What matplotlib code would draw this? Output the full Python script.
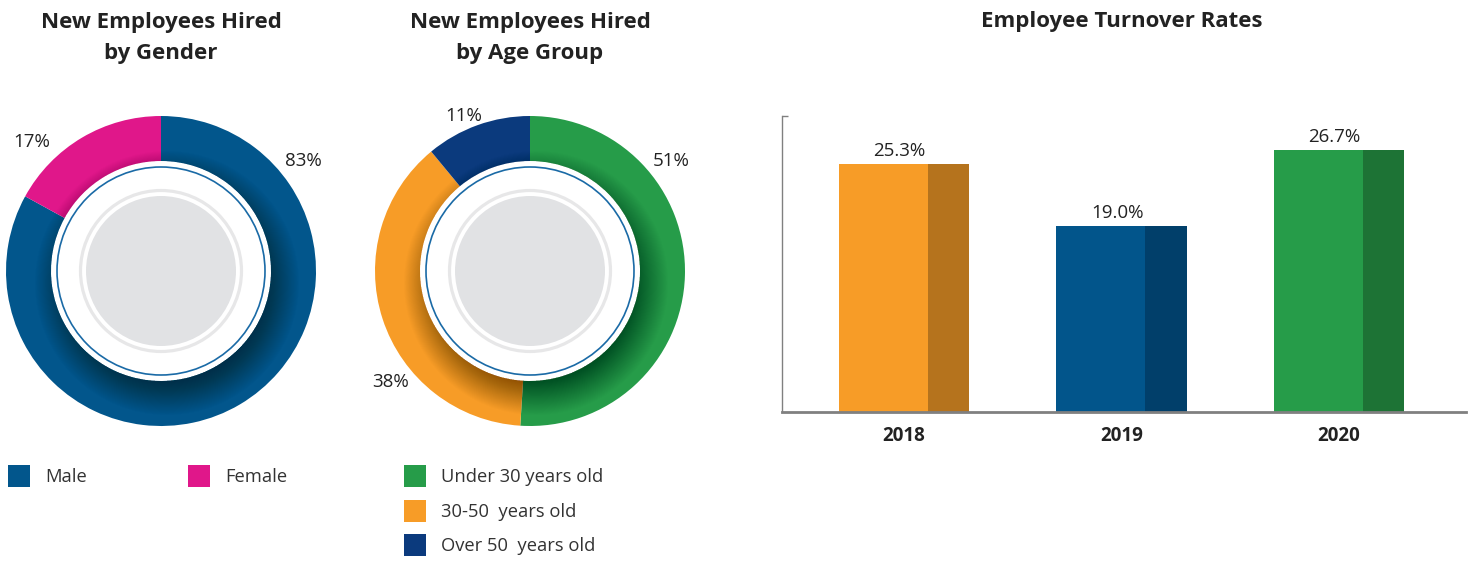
import numpy as np
import matplotlib
matplotlib.use("Agg")
import matplotlib.pyplot as plt
from matplotlib.patches import Wedge, Circle, Rectangle

plt.rcParams['font.family'] = ['Open Sans', 'DejaVu Sans']

# hires by gender
gender_labels = ["Male", "Female"]
gender_share = [83, 17]
gender_colors = ["#02568C", "#E0178A"]

# hires by age group
age_labels = ["Under 30 years old", "30-50  years old", "Over 50  years old"]
age_share = [51, 38, 11]
age_colors = ["#269C49", "#F79C27", "#0B3A7D"]

# turnover
years = ["2018", "2019", "2020"]
turnover = [25.3, 19.0, 26.7]
bar_light = ["#F79C27", "#02558B", "#269C49"]
bar_dark = ["#B5731D", "#013F6A", "#1D7335"]

W, H = 1470, 569
fig = plt.figure(figsize=(W / 100, H / 100), dpi=100)


def px_axes(x0, y0, x1, y1):
    # axes from pixel box (top-left origin)
    return fig.add_axes([x0 / W, 1 - y1 / H, (x1 - x0) / W, (y1 - y0) / H])


R_OUT, R_IN = 155, 110


def donut(cx, cy, values, colors, labels_pos):
    ax = px_axes(cx - 165, cy - 165, cx + 165, cy + 165)
    ax.pie(values, colors=colors, radius=R_OUT, startangle=90, counterclock=False,
           wedgeprops=dict(width=R_OUT - R_IN, linewidth=0))
    ax.set_xlim(-165, 165)
    ax.set_ylim(-165, 165)
    ax.set_aspect('equal')
    ax.axis('off')

    # soft shadow of the inner disc falling down-right onto the ring
    ring = Wedge((0, 0), R_OUT, 0, 360, width=R_OUT - R_IN, facecolor='none', edgecolor='none')
    ax.add_patch(ring)
    n = 50
    a = 1 - (1 - 0.45) ** (1 / n)
    for r in np.linspace(R_IN + 22, R_IN - 22, n):
        c = Circle((6, -12), r, facecolor='black', edgecolor='none', alpha=a)
        ax.add_patch(c)
        c.set_clip_path(ring)

    ax.add_patch(Circle((0, 0), 104, facecolor='white', edgecolor='#1a6aa6', linewidth=1.2))
    ax.add_patch(Circle((0, 0), 80.5, facecolor='none', edgecolor='#e7e7e8', linewidth=2.3))
    ax.add_patch(Circle((0, 0), 75, facecolor='#e1e2e4', edgecolor='none'))

    for v, (dx, dy) in zip(values, labels_pos):
        ax.text(dx, dy, f"{v}%", ha='center', va='center', fontsize=13.5, color='#222222')
    return ax


donut(161, 271, gender_share, gender_colors, [(142, 110), (-129, 129)])
donut(530, 271, age_share, age_colors, [(141, 110), (-139, -111), (-66, 155)])

# turnover bars
bx = px_axes(782, 116, 1466, 412)
x = np.arange(len(years))
light_w, dark_w = 0.41, 0.19
left = x - (light_w + dark_w) / 2
bx.bar(left, turnover, width=light_w, align='edge', color=bar_light, linewidth=0, zorder=2)
bx.bar(left + light_w, turnover, width=dark_w, align='edge', color=bar_dark, linewidth=0, zorder=2)
for xi, v in zip(x, turnover):
    bx.annotate(f"{v:.1f}%", (xi - 0.02, v), xytext=(0, 3), textcoords='offset points',
                ha='center', va='bottom', fontsize=13.5, color='#222222')
bx.set_xlim(-0.561, 2.584)
bx.set_ylim(0, 30.2)
bx.set_xticks(x)
bx.set_xticklabels(years, fontweight='bold', fontsize=13.5, color='#222222')
bx.set_yticks([30.2])
bx.tick_params(axis='y', direction='in', length=4, width=1, color='#808080', labelleft=False)
bx.tick_params(axis='x', length=0, pad=10)
bx.spines['top'].set_visible(False)
bx.spines['right'].set_visible(False)
bx.spines['left'].set_color('#808080')
bx.spines['left'].set_linewidth(1)
bx.spines['bottom'].set_color('#808080')
bx.spines['bottom'].set_linewidth(2)
bx.spines['bottom'].set_zorder(3)

# titles and legends on a full-figure overlay
ov = fig.add_axes([0, 0, 1, 1], zorder=-1)
ov.set_xlim(0, W)
ov.set_ylim(H, 0)
ov.axis('off')

title_kw = dict(ha='center', va='center', fontsize=16, fontweight='bold', color='#222222')
ov.text(161, 38, "New Employees Hired\nby Gender", linespacing=1.62, **title_kw)
ov.text(530, 38, "New Employees Hired\nby Age Group", linespacing=1.62, **title_kw)
ov.text(1122, 21, "Employee Turnover Rates", **title_kw)

leg_kw = dict(ha='left', va='center', fontsize=13.2, color='#333333')
for lab, col, sx in zip(gender_labels, gender_colors, [8, 188]):
    ov.add_patch(Rectangle((sx, 465), 22, 22, facecolor=col, edgecolor='none'))
    ov.text(sx + 37, 477, lab, **leg_kw)
for lab, col, sy in zip(age_labels, age_colors, [465, 500, 534]):
    ov.add_patch(Rectangle((404, sy), 22, 22, facecolor=col, edgecolor='none'))
    ov.text(441, sy + 12, lab, **leg_kw)

fig.savefig("out.png", dpi=100)
